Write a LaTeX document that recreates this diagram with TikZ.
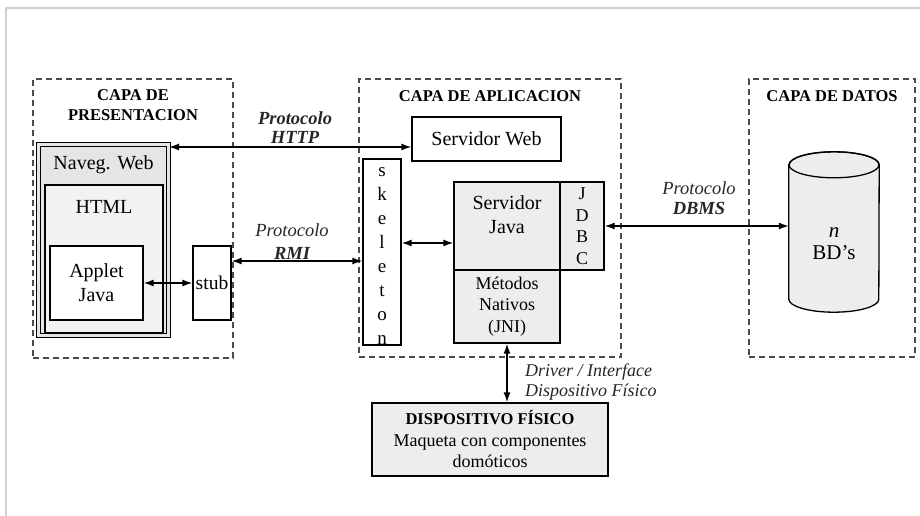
\documentclass[tikz,border=0pt]{standalone}
\usepackage{fontspec}
\setmainfont{Liberation Serif}
\usetikzlibrary{arrows.meta,positioning,shapes.geometric}

\begin{document}
\begin{tikzpicture}[
  x=1pt, y=-1pt,
  layer/.style={rectangle, draw=black!70, dash pattern=on 6pt off 4pt, line width=1.4pt, inner sep=0pt},
  box/.style={rectangle, draw, line width=1.3pt, inner sep=0pt, align=center, font=\fontsize{18}{21.5}\selectfont},
  boxtext/.style={align=center, inner sep=0pt, font=\fontsize{20}{24}\selectfont},
  title/.style={align=center, inner sep=0pt, font=\bfseries\fontsize{16.5}{20}\selectfont},
  proto/.style={align=center, inner sep=0pt, text=black!85, font=\itshape\fontsize{18.5}{20}\selectfont},
  arrow/.style={{Latex[length=10pt,width=7pt]}-{Latex[length=10pt,width=7pt]}, line width=1.4pt}
]
\useasboundingbox (0,0) rectangle (920,516);

% Screenshot frame
\draw[black!18, line width=1.5pt] (6,516) -- (6,8) -- (920,8);

% Layers
\node[layer, minimum width=200pt, minimum height=279pt] (pres) at (133,218.5) {};
\node[layer, minimum width=262pt, minimum height=278pt] (apl) at (490,218) {};
\node[layer, minimum width=166pt, minimum height=278pt] (datos) at (832,218) {};
\node[title] (prestitle) at (133,105) {CAPA DE\\PRESENTACION};
\node[title] (apltitle) at (490,96) {CAPA DE APLICACION};
\node[title] (datostitle) at (832,96) {CAPA DE DATOS};

% Presentation layer
\node[box, fill=black!10, double=black!10, double distance=2.5pt, line width=1pt,
  minimum width=130pt, minimum height=191pt] (naveg) at (103.5,240) {};
\node[boxtext] (navegtxt) at (103.5,165) {Naveg. Web};
\node[box, fill=black!5, minimum width=118pt, minimum height=148pt] (html) at (104,259) {};
\node[boxtext] (htmltxt) at (104,207) {HTML};
\node[box, fill=white, minimum width=93pt, minimum height=74pt,
  font=\fontsize{20}{24}\selectfont] (applet) at (96.5,283) {Applet\\Java};
\node[box, fill=white, minimum width=38pt, minimum height=74pt,
  font=\fontsize{19.5}{24}\selectfont] (stub) at (212,283) {stub};

% Application layer
\node[box, fill=white, minimum width=149pt, minimum height=44pt,
  font=\fontsize{20}{24}\selectfont] (servweb) at (486.5,139) {Servidor Web};
\node[box, fill=white, minimum width=38pt, minimum height=186pt] (skeleton) at (382,252) {};
\node[boxtext, font=\fontsize{19}{23.9}\selectfont] (skeletontxt) at (382,256) {s\\k\\e\\l\\e\\t\\o\\n};
\node[box, fill=black!7, minimum width=106pt, minimum height=88pt] (servjava) at (507,226) {};
\node[boxtext] (servjavatxt) at (507,215) {Servidor\\Java};
\node[box, fill=black!7, minimum width=44pt, minimum height=88pt] (jdbc) at (582,226) {J\\D\\B\\C};
\node[box, fill=black!7, minimum width=106pt, minimum height=73pt] (jni) at (507,306.5) {Métodos\\Nativos\\(JNI)};

% Data layer
\node[inner sep=0pt, minimum width=90pt, minimum height=160pt] (bd) at (834,232) {};
\draw[line width=1.3pt, fill=black!7] ([yshift=-13pt]bd.north west) -- ([yshift=13pt]bd.south west)
  arc[start angle=180, end angle=360, x radius=45pt, y radius=13pt]
  -- ([yshift=-13pt]bd.north east)
  arc[start angle=0, end angle=180, x radius=45pt, y radius=13pt] -- cycle;
\draw[line width=1.3pt] ([yshift=-13pt]bd.north) ellipse[x radius=45pt, y radius=13pt];
\node[boxtext, font=\fontsize{21}{22}\selectfont] (bdtxt) at (834,244) {\textit{n}\\BD's};

% Physical device
\node[box, fill=black!7, minimum width=236pt, minimum height=73pt] (disp) at (490,439.5)
  {{\bfseries\fontsize{16.5}{21.5}\selectfont DISPOSITIVO FÍSICO}\\Maqueta con componentes\\domóticos};

% Connections
\coordinate (httpy) at (0,147);
\coordinate (rmiy) at (0,261);
\coordinate (javay) at (0,243);
\draw[arrow] (naveg.east |- httpy) -- (servweb.west |- httpy);
\draw[arrow] (applet) -- (stub);
\draw[arrow] (stub.east |- rmiy) -- (skeleton.west |- rmiy);
\draw[arrow] (skeleton.east |- javay) -- (servjava.west |- javay);
\draw[arrow] (jdbc.east) -- (bd.west |- jdbc.east);
\draw[arrow] (jni.south) -- (jni.south |- disp.north);

% Protocol labels
\node[proto, font=\bfseries\itshape\fontsize{18.5}{19}\selectfont] (httplbl) at (295,128) {Protocolo\\HTTP};
\node[proto, font=\itshape\fontsize{18.5}{23}\selectfont] (rmilbl) at (292,242) {Protocolo\\\textbf{RMI}};
\node[proto] (dbmslbl) at (699,198) {Protocolo\\\textbf{DBMS}};
\node[proto, font=\itshape\fontsize{18}{20}\selectfont, align=left, anchor=west] (driverlbl) at (525,382) {Driver / Interface\\Dispositivo Físico};

\end{tikzpicture}
\end{document}
